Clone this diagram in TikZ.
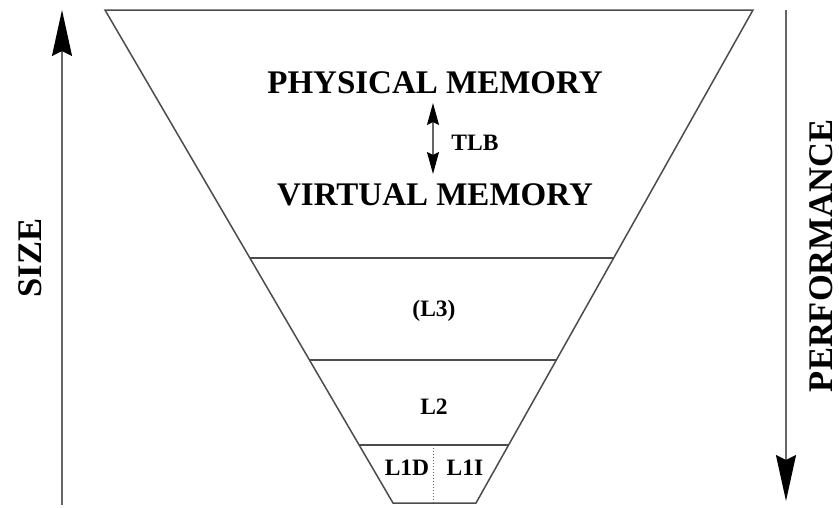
\documentclass[tikz,border=0pt]{standalone}
\usepackage{fontspec}
\setmainfont{Liberation Serif}
\usetikzlibrary{arrows.meta,calc}
\begin{document}
\begin{tikzpicture}[x=1pt,y=-1pt,
  edge/.style={draw=black!70,line width=1.5pt},
  axis/.style={draw=black!60,line width=2pt,-{Stealth[length=46pt,width=20pt,inset=5pt,color=black]}},
  tlbarrow/.style={draw=black!60,line width=1.5pt,{Stealth[length=22pt,width=12pt,inset=3pt,color=black]}-{Stealth[length=22pt,width=12pt,inset=3pt,color=black]}},
  big/.style={font=\fontsize{33}{36}\selectfont\bfseries,inner sep=0pt},
  small/.style={font=\fontsize{23.5}{26}\selectfont\bfseries,inner sep=0pt},
  side/.style={font=\fontsize{34.5}{38}\selectfont\bfseries,inner sep=0pt,rotate=90}]
\useasboundingbox[fill=white] (0,0) rectangle (839,507);
% trapezoid corners
\coordinate (tl) at (105,10);
\coordinate (tr) at (753,10);
\coordinate (bl) at (393,503);
\coordinate (br) at (476,503);
\draw[edge,line join=miter] (bl) -- (tl) -- (tr) -- (br) -- cycle;
% level lines
\coordinate (l1) at ($(tl)!0.503!(bl)$);
\coordinate (r1) at ($(tr)!0.503!(br)$);
\coordinate (l2) at ($(tl)!0.710!(bl)$);
\coordinate (r2) at ($(tr)!0.710!(br)$);
\coordinate (l3) at ($(tl)!0.882!(bl)$);
\coordinate (r3) at ($(tr)!0.882!(br)$);
\draw[edge] (l1) -- (r1);
\draw[edge] (l2) -- (r2);
\draw[edge] (l3) -- (r3);
% dotted split of L1
\coordinate (dtop) at (433,445);
\coordinate (dbot) at (433,503);
\draw[draw=black!60,line width=1pt,dotted] (dtop) -- (dbot);
% texts
\node[big] (phys) at (435,83) {PHYSICAL MEMORY};
\node[big] (virt) at (435,195) {VIRTUAL MEMORY};
\coordinate (ta) at (433,103);
\coordinate (tb) at (433,174);
\draw[tlbarrow] (ta) -- (tb);
\node[small] (tlb) at (475,143) {TLB};
\node[small] (L3) at (434,311) {(L3)};
\node[small] (L2) at (434,407) {L2};
\node[small] (L1D) at (407,468) {L1D};
\node[small] (L1I) at (465,468) {L1I};
% side axes
\coordinate (sa) at (62,505);
\coordinate (sb) at (62,10);
\draw[axis] (sa) -- (sb);
\node[side] (size) at (30,258) {SIZE};
\coordinate (pa) at (786,10);
\coordinate (pb) at (786,501);
\draw[axis] (pa) -- (pb);
\node[side] (perf) at (821,256) {PERFORMANCE};
\end{tikzpicture}
\end{document}
